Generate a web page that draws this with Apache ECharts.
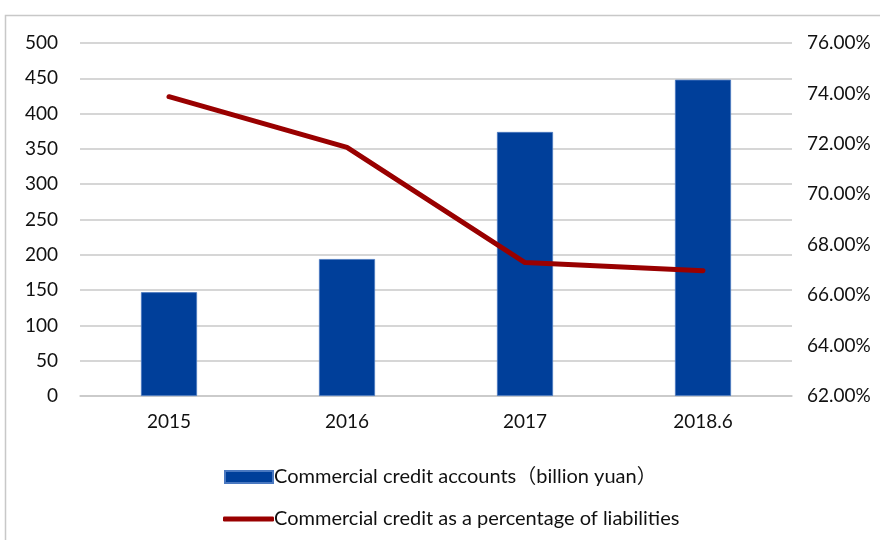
<!DOCTYPE html>
<html><head><meta charset="utf-8">
<script src="https://cdn.jsdelivr.net/npm/echarts@6/dist/echarts.min.js"></script>
<style>html,body{margin:0;padding:0;background:#fff}#c{width:880px;height:540px}</style>
</head><body><div id="c"></div>
<script>
const categories = ['2015', '2016', '2017', '2018.6'];
const creditAccounts = [147, 194, 374, 448];
const creditPct = [73.87, 71.86, 67.29, 66.97];
const barName = 'Commercial credit accounts（billion yuan）';
const lineName = 'Commercial credit as a percentage of liabilities';

const FONT = "Lato, 'Noto Sans CJK SC', sans-serif";
const chart = echarts.init(document.getElementById('c'), null, {renderer: 'canvas'});
chart.setOption({
  animation: false,
  textStyle: {fontFamily: FONT},
  graphic: [{type: 'rect', shape: {x: 5.5, y: 15.5, width: 900, height: 600},
    style: {fill: 'none', stroke: '#c8c8c8', lineWidth: 1.5}, silent: true}],
  grid: {left: 80, right: 88, top: 43, bottom: 144},
  legend: [{
    data: [{name: barName, icon: 'rect'}],
    left: 219, top: 462, itemWidth: 48, itemHeight: 12, itemGap: 6,
    textStyle: {fontFamily: FONT, fontSize: 20, color: '#111', padding: [0, 0, 0, -4]}
  }, {
    data: [{name: lineName, icon: 'roundRect'}],
    left: 218, top: 504, itemWidth: 51, itemHeight: 5, itemGap: 4,
    textStyle: {fontFamily: FONT, fontSize: 20, color: '#111', padding: [0, 0, 0, -5]}
  }],
  xAxis: {
    type: 'category', data: categories,
    axisLine: {lineStyle: {color: '#c8c8c8', width: 1.5}},
    axisTick: {show: false},
    axisLabel: {fontFamily: FONT, fontSize: 19, color: '#111', margin: 16}
  },
  yAxis: [{
    type: 'value', min: 0, max: 500, interval: 50,
    axisLine: {show: false}, axisTick: {show: false},
    splitLine: {lineStyle: {color: '#c8c8c8', width: 1.5}},
    axisLabel: {fontFamily: FONT, fontSize: 19, color: '#111', margin: 22}
  }, {
    type: 'value', min: 62, max: 76, interval: 2, position: 'right',
    axisLine: {show: false}, axisTick: {show: false}, splitLine: {show: false},
    axisLabel: {fontFamily: FONT, fontSize: 19, color: '#111', margin: 15,
      formatter: v => v.toFixed(2) + '%'}
  }],
  series: [{
    name: barName, type: 'bar', data: creditAccounts, barWidth: '31.5%',
    itemStyle: {color: '#003f9a', borderColor: '#4a78c0', borderWidth: 0.8}
  }, {
    name: lineName, type: 'line', yAxisIndex: 1, data: creditPct,
    symbol: 'none', lineStyle: {color: '#990000', width: 5, cap: 'round', join: 'round'},
    itemStyle: {color: '#990000'}
  }]
});
</script></body></html>
